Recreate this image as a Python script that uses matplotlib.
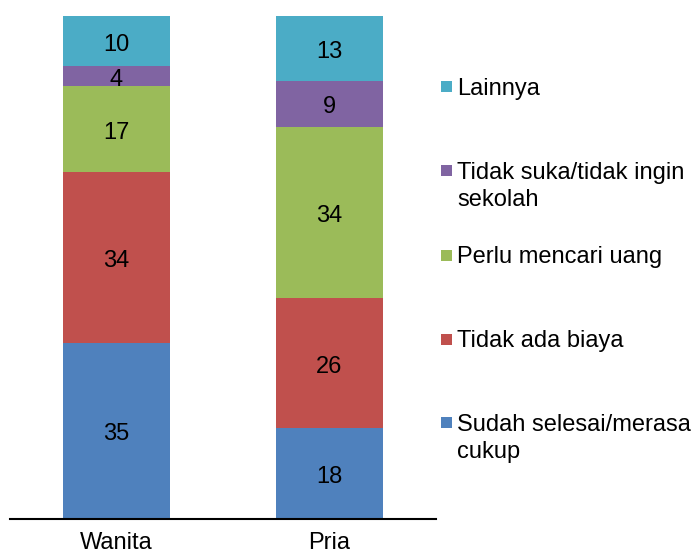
import matplotlib.pyplot as plt
from matplotlib.patches import Rectangle

plt.rcParams['font.family'] = ['Liberation Sans', 'DejaVu Sans']

groups = ['Wanita', 'Pria']
series = ['Sudah selesai/merasa\ncukup', 'Tidak ada biaya', 'Perlu mencari uang',
          'Tidak suka/tidak ingin\nsekolah', 'Lainnya']
values = {
    'Sudah selesai/merasa\ncukup': [35, 18],
    'Tidak ada biaya': [34, 26],
    'Perlu mencari uang': [17, 34],
    'Tidak suka/tidak ingin\nsekolah': [4, 9],
    'Lainnya': [10, 13],
}
colors = ['#4F81BD', '#C0504D', '#9BBB59', '#8064A2', '#4BACC6']
fs = 17

W, H = 694, 556
fig = plt.figure(figsize=(W / 100, H / 100), dpi=100)
ax = fig.add_axes([10 / W, 1 - 519 / H, 426 / W, (519 - 16) / H])

x = list(range(len(groups)))
bottom = [0] * len(groups)
for name, col in zip(series, colors):
    vals = values[name]
    bars = ax.bar(x, vals, 0.5, bottom=bottom, color=col, edgecolor='none')
    for b, v, y0 in zip(bars, vals, bottom):
        ax.annotate(str(v), (b.get_x() + b.get_width() / 2, y0 + v / 2),
                    xytext=(0, -2.5), textcoords='offset points',
                    ha='center', va='center', fontsize=fs, color='black')
    bottom = [a + b for a, b in zip(bottom, vals)]

ax.set_xlim(-0.5, 1.5)
ax.set_ylim(0, 100)
ax.set_xticks(x)
ax.set_xticklabels(groups, fontsize=fs)
ax.tick_params(axis='x', length=0, pad=9.5)
ax.set_yticks([])
for s in ['top', 'right', 'left']:
    ax.spines[s].set_visible(False)
ax.spines['bottom'].set_linewidth(1.5)
ax.spines['bottom'].set_color('black')

# legend, drawn top to bottom
centers = [86.5, 170.5, 255, 339, 422.5]
for name, col, cy in zip(series[::-1], colors[::-1], centers):
    fig.add_artist(Rectangle((441 / W, 1 - (cy + 5.5) / H), 11 / W, 11 / H,
                             transform=fig.transFigure, color=col, lw=0))
    lines = name.split('\n')
    for i, line in enumerate(lines):
        fig.text(457 / W, 1 - (cy + 8.5 + 27 * i) / H, line, fontsize=fs,
                 va='baseline', ha='left')

fig.savefig('out.png', dpi=100)
